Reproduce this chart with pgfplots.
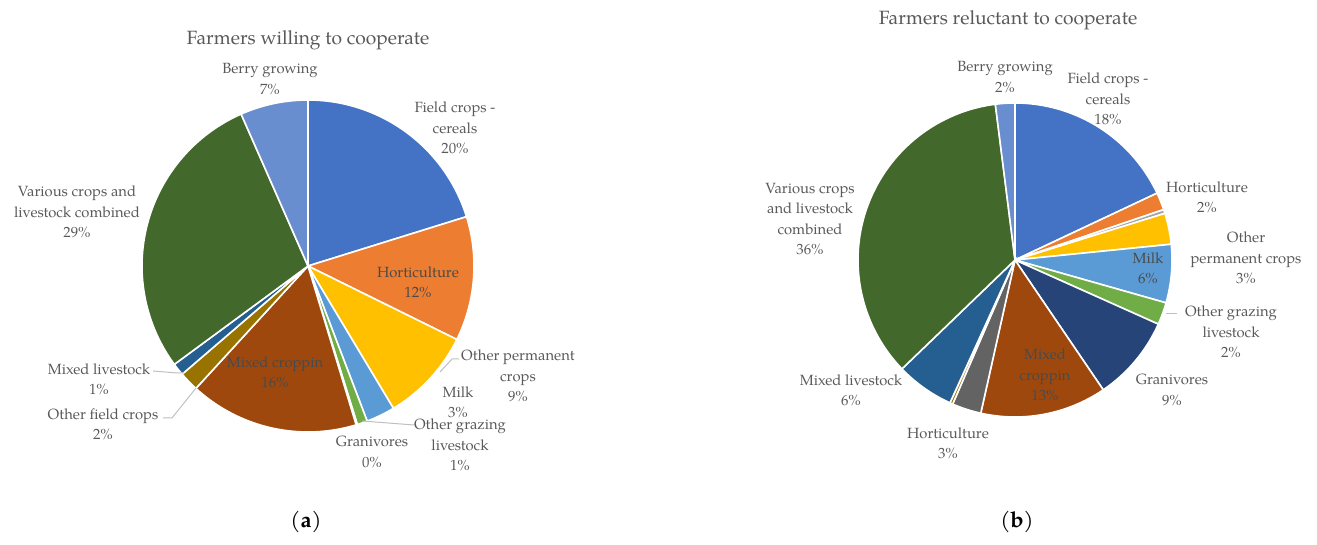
\documentclass[border=0pt]{standalone}
\usepackage{pgfplots}
\pgfplotsset{compat=1.18}
\usepackage{fontspec}
\setmainfont{TeX Gyre Pagella}
\definecolor{c1}{HTML}{4472C4}
\definecolor{c2}{HTML}{ED7D31}
\definecolor{c3}{HTML}{A5A5A5}
\definecolor{c4}{HTML}{FFC000}
\definecolor{c5}{HTML}{5B9BD5}
\definecolor{c6}{HTML}{70AD47}
\definecolor{c7}{HTML}{264478}
\definecolor{c8}{HTML}{9E480E}
\definecolor{c9}{HTML}{636363}
\definecolor{c10}{HTML}{997300}
\definecolor{c11}{HTML}{255E91}
\definecolor{c12}{HTML}{43682B}
\definecolor{c13}{HTML}{698ED0}
\definecolor{txt}{HTML}{595959}
\definecolor{intxt}{HTML}{4A4A4A}
\definecolor{lead}{HTML}{BFBFBF}
\gdef\cum{0}
\newcommand\slice[2]{%
 \pgfmathsetmacro\sa{\cum}%
 \pgfmathsetmacro\sb{\cum+#1}%
 \edef\tmp{\noexpand\addplot[fill=#2,draw=white,line width=0.8pt,domain=\sa:\sb,samples=80,variable=\noexpand\t] ({sin(3.6*\noexpand\t)},{cos(3.6*\noexpand\t)}) -- (axis cs:0,0) -- cycle;}%
 \tmp
 \xdef\cum{\sb}}
\begin{document}
\begin{tikzpicture}
\useasboundingbox (0,0) rectangle (658.5pt,272.5pt);
% ---------- (a)
\gdef\cum{0}
\begin{axis}[at={(154pt,139.5pt)},anchor=center,x=83pt,y=83pt,
  xmin=-1.2,xmax=1.2,ymin=-1.2,ymax=1.2,hide axis,clip=false,scale only axis]
\slice{20.2}{c1}
\slice{12.1}{c2}
\slice{9.1}{c4}
\slice{2.8}{c5}
\slice{1.0}{c6}
\slice{0.12}{c7}
\slice{16.48}{c8}
\slice{1.9}{c10}
\slice{1.2}{c11}
\slice{28.5}{c12}
\slice{6.6}{c13}
\end{axis}
% ---------- (b)
\gdef\cum{0}
\begin{axis}[at={(507.5pt,142.5pt)},anchor=center,x=78.5pt,y=78.5pt,
  xmin=-1.2,xmax=1.2,ymin=-1.2,ymax=1.2,hide axis,clip=false,scale only axis]
\slice{18.0}{c1}
\slice{1.8}{c2}
\slice{0.4}{c3}
\slice{3.2}{c4}
\slice{6.0}{c5}
\slice{2.3}{c6}
\slice{8.8}{c7}
\slice{13.0}{c8}
\slice{3.0}{c9}
\slice{0.3}{c10}
\slice{6.0}{c11}
\slice{35.2}{c12}
\slice{2.0}{c13}
\end{axis}
\begin{scope}[x=0.5pt,y=-0.5pt,shift={(0pt,272.5pt)}]
% leader lines
\draw[lead,line width=0.5pt] (440,372) -- (452,359) -- (459,359);
\draw[lead,line width=0.5pt] (362,421) -- (414,425);
\draw[lead,line width=0.5pt] (153,371) -- (177,373) -- (184,373);
\draw[lead,line width=0.5pt] (163,418) -- (172,418) -- (196,388);
\draw[lead,line width=0.5pt] (1166,314) -- (1177,314);
% labels
\begin{scope}[every node/.style={text=txt,align=center,font=\fontsize{7.4}{10.2}\selectfont,inner sep=0pt}]
\node[font=\fontsize{9.6}{12}\selectfont] at (308,40) {Farmers willing to cooperate};
\node at (270,79) {Berry growing\\7\%};
\node at (455,128) {Field crops -\\cereals\\20\%};
\node[text=intxt] at (418,282) {Horticulture\\12\%};
\node at (518,376) {Other permanent\\crops\\9\%};
\node at (458,402) {Milk\\3\%};
\node at (460,445) {Other grazing\\livestock\\1\%};
\node at (372,452) {Granivores\\0\%};
\node[text=intxt] at (275,372) {Mixed croppin\\16\%};
\node at (103,424) {Other field crops\\2\%};
\node at (99,379) {Mixed livestock\\1\%};
\node at (77,212) {Various crops and\\livestock combined\\29\%};
\node[font=\fontsize{9.6}{12}\selectfont] at (1008,20) {Farmers reluctant to cooperate};
\node at (1005,77) {Berry growing\\2\%};
\node at (1108,99) {Field crops -\\cereals\\18\%};
\node at (1207,197) {Horticulture\\2\%};
\node at (1246,258) {Other\\permanent crops\\3\%};
\node[text=intxt] at (1148,268) {Milk\\6\%};
\node at (1231,332) {Other grazing\\livestock\\2\%};
\node at (1172,390) {Granivores\\9\%};
\node[text=intxt] at (1045,375) {Mixed\\croppin\\13\%};
\node at (948,443) {Horticulture\\3\%};
\node at (851,390) {Mixed livestock\\6\%};
\node at (810,219) {Various crops\\and livestock\\combined\\36\%};
\end{scope}
\node[font=\fontsize{11}{13}\selectfont,text=black] at (306,522) {(\textbf{a})};
\node[font=\fontsize{11}{13}\selectfont,text=black] at (1017,522) {(\textbf{b})};
\end{scope}
\end{tikzpicture}
\end{document}
